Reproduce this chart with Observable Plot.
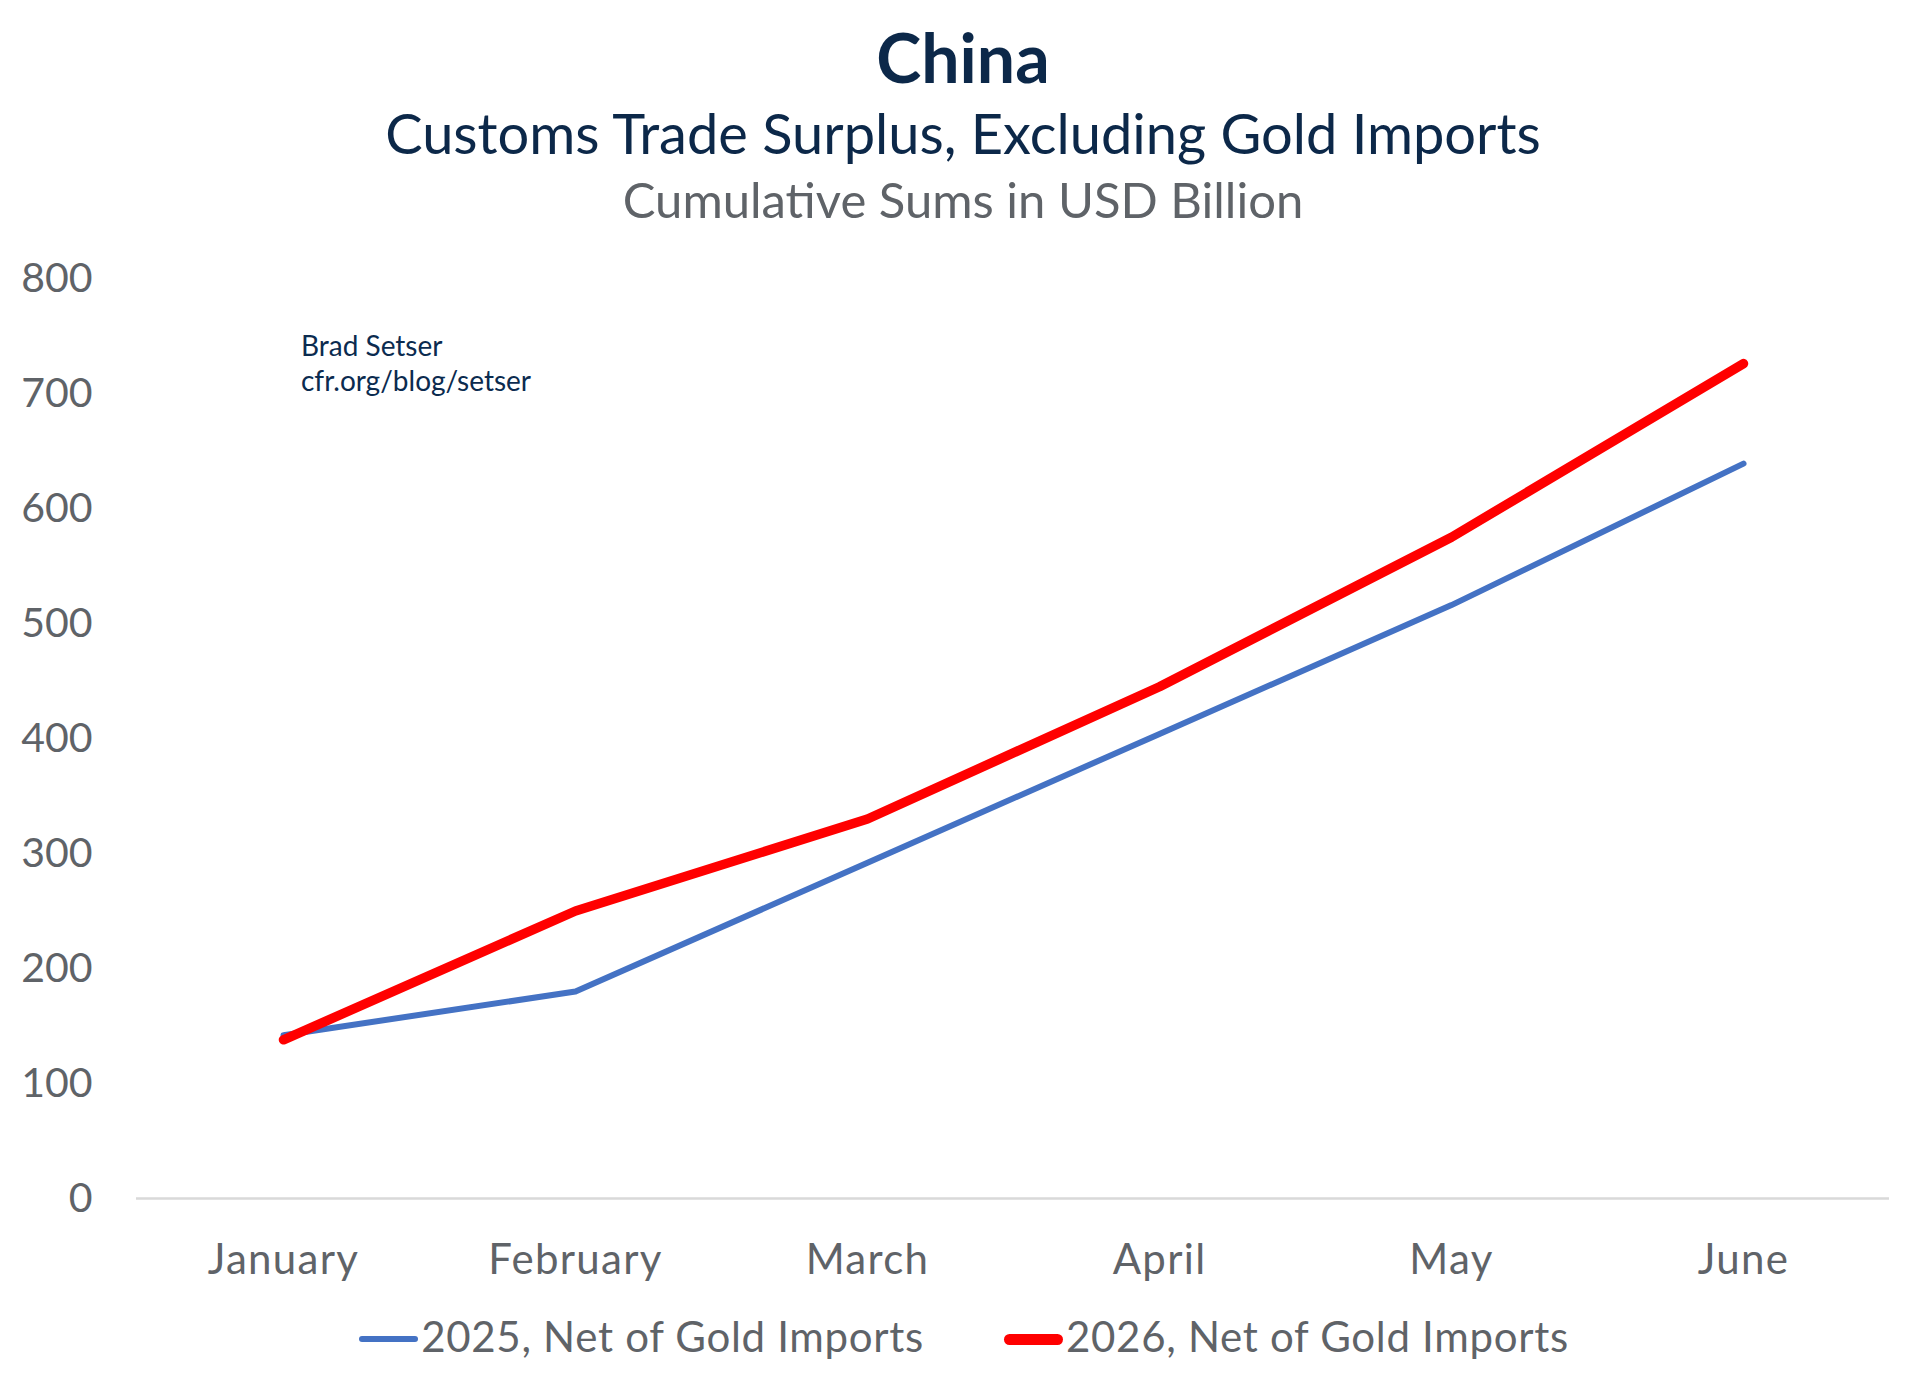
<!DOCTYPE html>
<html>
<head>
<meta charset="utf-8">
<script src="https://cdn.jsdelivr.net/npm/d3@7"></script>
<script src="https://cdn.jsdelivr.net/npm/@observablehq/plot@0.6"></script>
<style>
  html, body { margin: 0; padding: 0; background: #fff; overflow: hidden; }
  #page { position: relative; width: 1920px; height: 1393px; overflow: hidden; font-family: Lato, "Open Sans", sans-serif; }
  .t { position: absolute; left: 0; width: 1920px; padding-left: 6px; box-sizing: border-box; text-align: center; line-height: 1; white-space: nowrap; }
  #title { top: 23px; font-size: 68px; font-weight: 700; color: #0c2849; }
  #sub { top: 105px; font-size: 56px; color: #0c2849; }
  #sub2 { top: 175px; font-size: 49px; color: #5f6368; }
  #chart { position: absolute; left: 0; top: 230px; }
  #chart g[aria-label="x-axis tick label"] text { letter-spacing: 1.3px; }
  #note { position: absolute; left: 301px; top: 328px; font-size: 28px; line-height: 35px; color: #0b2b4f; }
  #legend { position: absolute; left: 0; width: 1920px; padding-left: 8px; box-sizing: border-box; top: 1315px; display: flex; justify-content: center; font-size: 42px; line-height: 42px; letter-spacing: 0.7px; color: #5f6368; }
  .item { display: flex; align-items: flex-start; }
  .sw { width: 59px; border-radius: 6px; margin-right: 3px; }
</style>
</head>
<body>
<div id="page">
  <div id="title" class="t">China</div>
  <div id="sub" class="t">Customs Trade Surplus, Excluding Gold Imports</div>
  <div id="sub2" class="t">Cumulative Sums in USD Billion</div>
  <div id="chart"></div>
  <div id="note">Brad Setser<br>cfr.org/blog/setser</div>
  <div id="legend"></div>
</div>
<script>
const months = ["January", "February", "March", "April", "May", "June"];
const values2025 = [142, 180, 292, 404, 516, 639];
const values2026 = [138, 250, 330, 445, 575, 726];
const seriesNames = ["2025, Net of Gold Imports", "2026, Net of Gold Imports"];
const seriesColors = ["#4472C4", "#FF0000"];
const yTicks = [0, 100, 200, 300, 400, 500, 600, 700, 800];

const data = [];
months.forEach((m, i) => data.push({month: m, value: values2025[i], series: seriesNames[0]}));
months.forEach((m, i) => data.push({month: m, value: values2026[i], series: seriesNames[1]}));

const chart = Plot.plot({
  width: 1920,
  height: 1080,
  marginLeft: 136,
  marginRight: 31,
  marginTop: 48,
  marginBottom: 112,
  style: {fontFamily: "Lato, 'Open Sans', sans-serif", background: "#fff"},
  x: {type: "point", domain: months, padding: 0.5},
  y: {domain: [0, 800]},
  marks: [
    Plot.axisY({ticks: yTicks, tickSize: 0, tickPadding: 44, fontSize: 41, color: "#5f6368", label: null}),
    Plot.axisX({tickSize: 0, tickPadding: 46, fontSize: 42, color: "#5f6368", label: null}),
    Plot.ruleY([0], {stroke: "#d9d9d9", strokeWidth: 2.3}),
    Plot.line(data.filter(d => d.series === seriesNames[0]), {x: "month", y: "value", stroke: seriesColors[0], strokeWidth: 6, strokeLinecap: "round", strokeLinejoin: "round"}),
    Plot.line(data.filter(d => d.series === seriesNames[1]), {x: "month", y: "value", stroke: seriesColors[1], strokeWidth: 9.5, strokeLinecap: "round", strokeLinejoin: "round"})
  ]
});
document.getElementById("chart").appendChild(chart);

const legend = document.getElementById("legend");
const swH = [6, 11];
seriesNames.forEach((name, i) => {
  const item = document.createElement("div");
  item.className = "item";
  if (i > 0) item.style.marginLeft = "80px";
  const sw = document.createElement("div");
  sw.className = "sw";
  sw.style.background = seriesColors[i];
  sw.style.height = swH[i] + "px";
  sw.style.marginTop = (24 - swH[i] / 2) + "px";
  const lab = document.createElement("span");
  lab.textContent = name;
  item.appendChild(sw);
  item.appendChild(lab);
  legend.appendChild(item);
});
</script>
</body>
</html>
